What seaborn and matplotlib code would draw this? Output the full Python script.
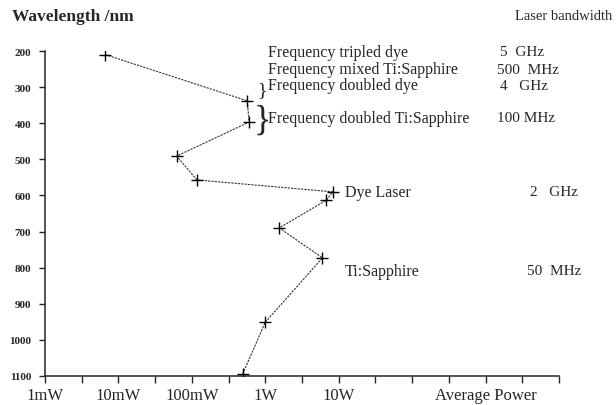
import numpy as np
import pandas as pd
import matplotlib
matplotlib.use("Agg")
import matplotlib.pyplot as plt
import seaborn as sns

# measured laser points (power in W, wavelength in nm), in curve order
power_w = [0.0066, 0.57, 0.60, 0.062, 0.117, 8.3, 6.8, 1.55, 6.0, 1.0, 0.49]
wavelength_nm = [210, 338, 397, 491, 557, 590, 613, 690, 773, 951, 1095]

y_ticks = [200, 300, 400, 500, 600, 700, 800, 900, 1000, 1100]
x_ticks = [1e-3, 10**-2.5, 1e-2, 10**-1.5, 1e-1, 10**-0.5, 1, 10**0.5, 10,
           10**1.5, 1e2, 10**2.5, 1e3, 10**3.5, 1e4]
x_labels = ["1mW", "", "10mW", "", "100mW", "", "1W", "", "10W",
            "", "", "", "Average Power", "", ""]

sources = ["Frequency tripled dye", "Frequency mixed Ti:Sapphire",
           "Frequency doubled dye", "Frequency doubled Ti:Sapphire",
           "Dye Laser", "Ti:Sapphire"]
bandwidths = ["5  GHz", "500  MHz", "4   GHz", "100 MHz", "2   GHz", "50  MHz"]

df = pd.DataFrame({"power": power_w, "wavelength": wavelength_nm})

sns.set_style("ticks")
plt.rcParams["font.family"] = ["Liberation Serif", "DejaVu Serif"]

fig = plt.figure(figsize=(6.16, 4.06), dpi=100)
ax = fig.add_axes([45 / 616, 1 - 377 / 406, 514 / 616, 325 / 406])

sns.lineplot(data=df, x="power", y="wavelength", sort=False, color="#333333",
             lw=0.8, linestyle=(0, (2, 1)), ax=ax)
sns.scatterplot(data=df, x="power", y="wavelength", marker="+", s=80,
                color="black", linewidth=1.0, ax=ax, zorder=3)

ax.set_xscale("log")
ax.set_xlim(1e-3, 1e4)
ax.set_ylim(1100, 200)
ax.set_xticks(x_ticks)
ax.set_xticklabels(x_labels, fontsize=12)
ax.xaxis.set_minor_locator(matplotlib.ticker.NullLocator())
ax.set_yticks(y_ticks)
ax.set_yticklabels([str(v) for v in y_ticks], fontsize=8, fontweight="bold")
ax.tick_params(axis="x", length=5, width=1, pad=3)
ax.tick_params(axis="y", length=4, width=1, pad=6)
ax.set_xlabel("")
ax.set_ylabel("")
for s in ["top", "right"]:
    ax.spines[s].set_visible(False)
for s in ["left", "bottom"]:
    ax.spines[s].set_linewidth(1.1)

# headings
fig.text(12 / 616, 1 - 17 / 406, "Wavelength /nm", fontsize=12.5,
         fontweight="bold", va="center")
fig.text(612 / 616, 1 - 17 / 406, "Laser bandwidth", fontsize=10.5,
         ha="right", va="center")

# source names and bandwidths
name_pos = [(268, 53), (268, 70), (268, 86), (268, 119), (345, 193), (345, 272)]
bw_pos = [(500, 53), (497, 70), (500, 86), (497, 119), (530, 193), (527, 272)]
for txt, (px, py) in zip(sources, name_pos):
    fig.text(px / 616, 1 - py / 406, txt, fontsize=11.5, va="center")
for txt, (px, py) in zip(bandwidths, bw_pos):
    fig.text(px / 616, 1 - py / 406, txt, fontsize=11, va="center")

# braces
fig.text(257 / 616, 1 - 91 / 406, "}", fontsize=14, va="center")
fig.text(254 / 616, 1 - 121 / 406, "}", fontsize=26, va="center")

fig.savefig("out.png", dpi=100)
